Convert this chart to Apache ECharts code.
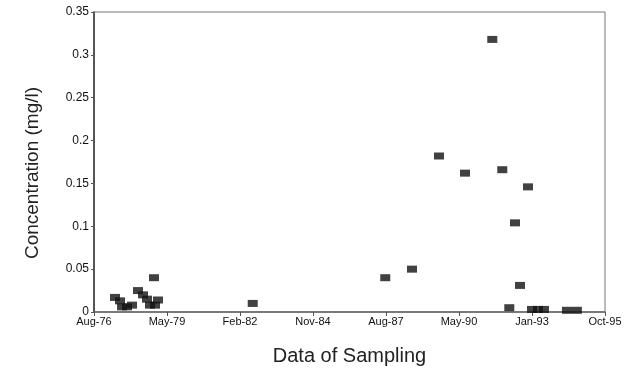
<!DOCTYPE html>
<html>
<head>
<meta charset="utf-8">
<script src="https://cdn.jsdelivr.net/npm/echarts@6/dist/echarts.min.js"></script>
<style>
html,body{margin:0;padding:0;background:#fff;}
#c{width:644px;height:371px;}
</style>
</head>
<body>
<div id="c"></div>
<script>
// Sampling dates and measured concentrations (mg/l)
var sampleDates = [
  '1977-06-04','1977-08-11','1977-09-08','1977-11-15','1978-01-23','1978-04-15',
  '1978-06-22','1978-08-16','1978-09-26','1978-11-20','1978-12-04','1979-01-14',
  '1982-08-03','1987-07-24','1988-07-24','1989-07-29','1990-07-20','1991-07-29',
  '1991-12-13','1992-03-18','1992-06-04','1992-08-12','1992-11-29','1993-01-23',
  '1993-04-15','1993-07-06','1994-05-17','1994-09-30'
];
var concentrations = [
  0.017, 0.013, 0.006, 0.006, 0.008, 0.025,
  0.020, 0.015, 0.008, 0.040, 0.008, 0.014,
  0.010, 0.040, 0.050, 0.182, 0.162, 0.318,
  0.166, 0.005, 0.104, 0.031, 0.146, 0.003,
  0.003, 0.003, 0.002, 0.002
];
// X-axis: start date and tick labels, one tick every 1000 days
var axisStartDate = '1976-08-20';
var tickStepDays = 1000;
var xTickLabels = ['Aug-76','May-79','Feb-82','Nov-84','Aug-87','May-90','Jan-93','Oct-95'];
var yTickValues = [0, 0.05, 0.1, 0.15, 0.2, 0.25, 0.3, 0.35];

var DAY = 86400000;
var t0 = Date.parse(axisStartDate);
var points = sampleDates.map(function (d, i) {
  return [(Date.parse(d) - t0) / DAY, concentrations[i]];
});

var font = '"Liberation Sans", Arial, sans-serif';
var chart = echarts.init(document.getElementById('c'), null, {renderer: 'canvas'});
chart.setOption({
  backgroundColor: '#ffffff',
  animation: false,
  grid: {left: 94, right: 39, top: 12, bottom: 56, show: true, borderColor: '#777', borderWidth: 1, backgroundColor: 'transparent'},
  xAxis: {
    type: 'value',
    min: 0,
    max: tickStepDays * (xTickLabels.length - 1),
    interval: tickStepDays,
    splitLine: {show: false},
    axisLine: {show: true, onZero: false, lineStyle: {color: '#666', width: 1.5}},
    axisTick: {show: true, length: 4, lineStyle: {color: '#555'}},
    axisLabel: {
      color: '#111', fontFamily: font, fontSize: 11, margin: 4,
      formatter: function (v) { return xTickLabels[Math.round(v / tickStepDays)] || ''; }
    },
    name: 'Data of Sampling',
    nameLocation: 'middle',
    nameGap: 34,
    nameTextStyle: {color: '#222', fontFamily: font, fontSize: 20}
  },
  yAxis: {
    type: 'value',
    min: 0,
    max: 0.35,
    interval: 0.05,
    splitLine: {show: false},
    axisLine: {show: true, lineStyle: {color: '#333', width: 1.5}},
    axisTick: {show: true, length: 3, lineStyle: {color: '#555'}},
    axisLabel: {
      color: '#111', fontFamily: font, fontSize: 12, margin: 5,
      formatter: function (v) {
        var idx = yTickValues.findIndex(function (t) { return Math.abs(t - v) < 1e-9; });
        return idx >= 0 ? String(yTickValues[idx]) : '';
      }
    },
    name: 'Concentration (mg/l)',
    nameLocation: 'middle',
    nameGap: 52,
    nameTextStyle: {color: '#222', fontFamily: font, fontSize: 19, padding: [0, 22, 0, 0]}
  },
  series: [{
    type: 'scatter',
    data: points,
    symbol: 'rect',
    symbolSize: [10, 7],
    itemStyle: {color: '#111'}
  }]
});
</script>
</body>
</html>
